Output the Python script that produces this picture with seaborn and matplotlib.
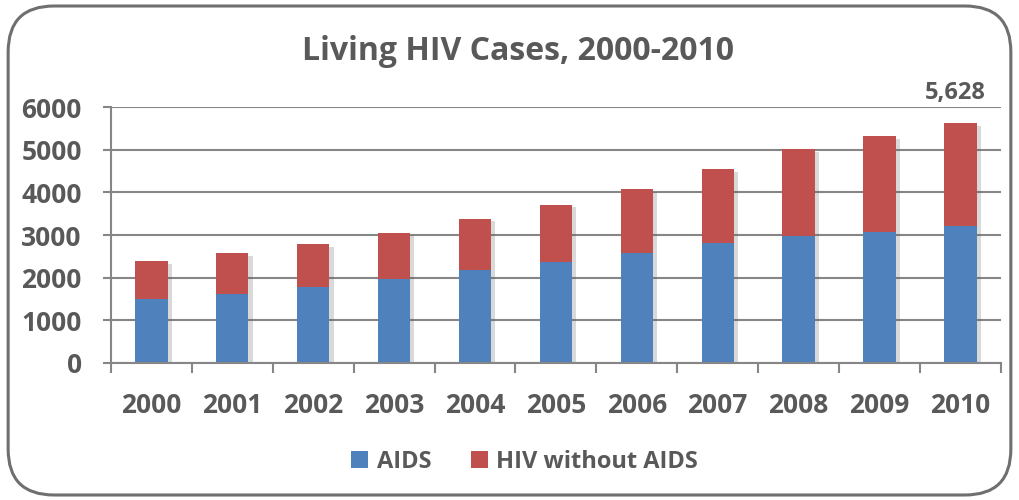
import numpy as np
import pandas as pd
import matplotlib
matplotlib.use('Agg')
import matplotlib.pyplot as plt
import matplotlib.patheffects as pe
from matplotlib.patches import FancyBboxPatch, Patch
import seaborn as sns

years = ['2000', '2001', '2002', '2003', '2004', '2005',
         '2006', '2007', '2008', '2009', '2010']
aids = [1490, 1614, 1771, 1959, 2170, 2373, 2577, 2805, 2976, 3070, 3220]
hiv_no_aids = [899, 963, 1017, 1095, 1213, 1339, 1503, 1752, 2037, 2248, 2408]
yticks = [0, 1000, 2000, 3000, 4000, 5000, 6000]

blue = '#4F81BD'
red = '#C0504D'
txt = '#595959'
grey = '#868686'

df = pd.DataFrame({'year': years, 'AIDS': aids, 'HIV without AIDS': hiv_no_aids})
df['total'] = df['AIDS'] + df['HIV without AIDS']

sns.set_style('white')
plt.rcParams['font.family'] = ['Open Sans', 'DejaVu Sans']
plt.rcParams['font.weight'] = 'bold'

fig = plt.figure(figsize=(10.19, 5), dpi=100)
ax = fig.add_axes([0.1089, 0.2746, 0.8733, 0.5108])

# rounded frame round the whole chart
frame = FancyBboxPatch((0.008, 0.01), 0.984, 0.978, boxstyle='round,pad=0,rounding_size=0.045',
                       transform=fig.transFigure, facecolor='white', edgecolor='#6f6f6f',
                       linewidth=2.2, mutation_aspect=1019 / 500, zorder=-10)
fig.patches.append(frame)

# stacked bars: total (red) first, AIDS (blue) over it
sns.barplot(data=df, x='year', y='total', color=red, width=0.4, saturation=1,
            linewidth=0, ax=ax, zorder=3)
for p in ax.patches:
    p.set_path_effects([pe.SimplePatchShadow(offset=(3, -2), alpha=0.22, shadow_rgbFace='#555555'),
                        pe.Normal()])
sns.barplot(data=df, x='year', y='AIDS', color=blue, width=0.4, saturation=1,
            linewidth=0, ax=ax, zorder=4)

ax.set_ylim(0, 6000)
ax.set_xlim(-0.5, len(years) - 0.5)
ax.set_yticks(yticks)
ax.set_yticklabels([str(v) for v in yticks])
ax.yaxis.grid(True, color=grey, linewidth=1.5)
ax.set_axisbelow(True)
ax.set_xlabel('')
ax.set_ylabel('')

for s in ['top', 'right']:
    ax.spines[s].set_visible(False)
for s in ['left', 'bottom']:
    ax.spines[s].set_color(grey)
    ax.spines[s].set_linewidth(1.5)
    ax.spines[s].set_zorder(5)

ax.tick_params(axis='y', length=6, width=1.5, color=grey, pad=15,
               labelsize=19, labelcolor=txt, left=True)
ax.set_xticks(np.arange(-0.5, len(years)), minor=True)
ax.tick_params(axis='x', which='minor', length=7, width=1.5, color=grey, bottom=True)
ax.tick_params(axis='x', which='major', length=0, pad=21, labelsize=19, labelcolor=txt)
for lab in ax.get_xticklabels() + ax.get_yticklabels():
    lab.set_fontweight('bold')

# label the last total
ax.annotate(f"{df['total'].iloc[-1]:,}", xy=(len(years) - 1, 6000), xytext=(-4, 10),
            textcoords='offset points', ha='center', va='center',
            fontsize=17, fontweight='bold', color=txt, annotation_clip=False)

fig.text(0.508, 0.898, 'Living HIV Cases, 2000-2010', ha='center', va='center',
         fontsize=23, fontweight='bold', color=txt)

handles = [Patch(facecolor=blue, edgecolor='none'), Patch(facecolor=red, edgecolor='none')]
leg = fig.legend(handles, ['AIDS', 'HIV without AIDS'],
                 loc='center', bbox_to_anchor=(0.515, 0.076), ncol=2, frameon=False,
                 handlelength=0.72, handleheight=0.72, handletextpad=0.35, columnspacing=1.7,
                 prop={'size': 17, 'weight': 'bold'})
for t in leg.get_texts():
    t.set_color(txt)

fig.savefig('out.png', dpi=100)
